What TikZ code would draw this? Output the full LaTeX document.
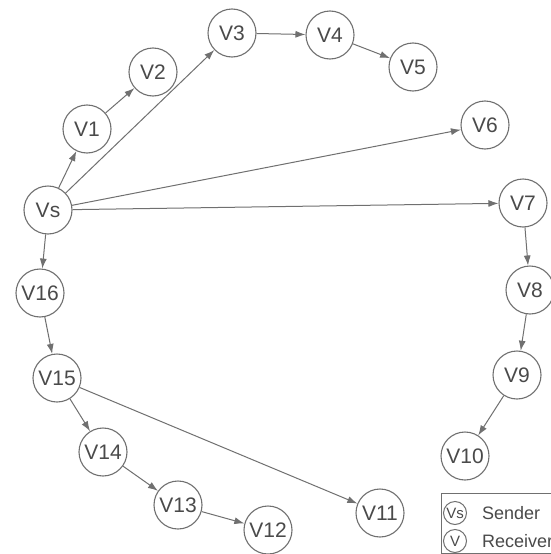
\documentclass[tikz,border=0pt]{standalone}
\usepackage{fontspec}
\setmainfont{Liberation Sans}
\usetikzlibrary{arrows.meta}
\definecolor{ln}{HTML}{707070}
\definecolor{tx}{HTML}{4A4A4A}
\begin{document}
\begin{tikzpicture}[x=1pt,y=-1pt,
  vert/.style={circle,draw=ln,line width=1.1pt,minimum size=48pt,inner sep=0pt,text=tx,font=\fontsize{21}{25}\selectfont},
  conn/.style={draw=ln,line width=1pt,-{Latex[length=10pt,width=7pt]}},
  leg/.style={circle,draw=ln,line width=1pt,minimum size=23pt,inner sep=0pt,text=tx,font=\fontsize{15}{18}\selectfont},
  legtxt/.style={anchor=west,inner sep=0pt,text=tx,font=\fontsize{18}{21}\selectfont}]
\useasboundingbox[fill=white] (0,0) rectangle (551,554);
\node[vert] (vs) at (48,210) {Vs};
\node[vert] (v1) at (87,129) {V1};
\node[vert] (v2) at (153,72) {V2};
\node[vert] (v3) at (232,33) {V3};
\node[vert] (v4) at (330,35) {V4};
\node[vert] (v5) at (413,67) {V5};
\node[vert] (v6) at (485,125) {V6};
\node[vert] (v7) at (523,203) {V7};
\node[vert] (v8) at (530,290) {V8};
\node[vert] (v9) at (517,375) {V9};
\node[vert] (v10) at (465,456) {V10};
\node[vert] (v11) at (380,513) {V11};
\node[vert] (v12) at (268,530) {V12};
\node[vert] (v13) at (178,505) {V13};
\node[vert] (v14) at (103,452) {V14};
\node[vert] (v15) at (57,378) {V15};
\node[vert] (v16) at (40,293) {V16};
\draw[conn] (vs) -- (v1);
\draw[conn] (v1) -- (v2);
\draw[conn] (vs) -- (v3);
\draw[conn] (v3) -- (v4);
\draw[conn] (v4) -- (v5);
\draw[conn] (vs) -- (v6);
\draw[conn] (vs) -- (v7);
\draw[conn] (v7) -- (v8);
\draw[conn] (v8) -- (v9);
\draw[conn] (v9) -- (v10);
\draw[conn] (vs) -- (v16);
\draw[conn] (v16) -- (v15);
\draw[conn] (v15) -- (v14);
\draw[conn] (v15) -- (v11);
\draw[conn] (v14) -- (v13);
\draw[conn] (v13) -- (v12);
% legend
\node[draw=ln,line width=1pt,minimum width=125pt,minimum height=60pt,anchor=north west,inner sep=0pt] (box) at (441,493) {};
\node[leg] (ls) at (455,513) {Vs};
\node[leg] (lr) at (455,541) {V};
\node[legtxt] (st) at (482,513) {Sender};
\node[legtxt] (rt) at (482,541) {Receiver};
\end{tikzpicture}
\end{document}
